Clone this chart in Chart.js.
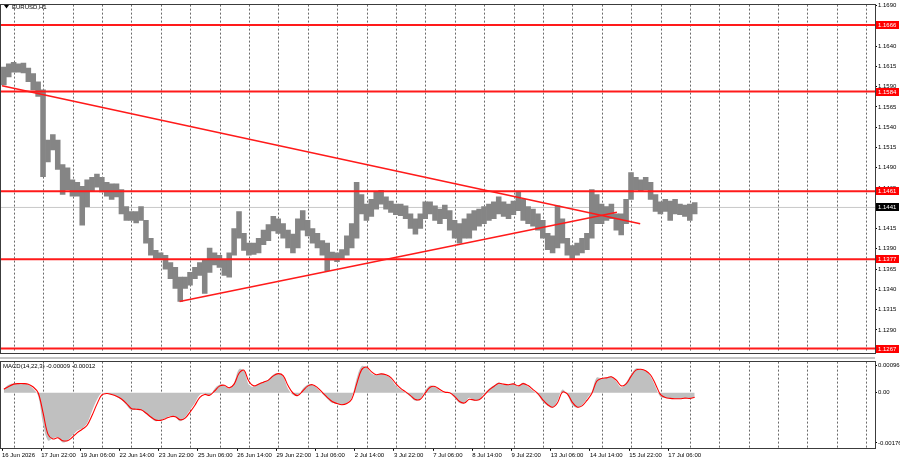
<!DOCTYPE html>
<html>
<head>
<meta charset="utf-8">
<script src="https://cdn.jsdelivr.net/npm/chart.js@4.4.1/dist/chart.umd.min.js"></script>
<style>
html,body{margin:0;padding:0;background:#fff;}
#wrap{position:relative;width:900px;height:460px;overflow:hidden;background:#fff;}
#price{position:absolute;left:0;top:0;}
#macd{position:absolute;left:0;top:357px;}
</style>
</head>
<body>
<div id="wrap">
<canvas id="price" width="900" height="357"></canvas>
<canvas id="macd" width="900" height="103"></canvas>
</div>
<script>
const FONT = "'Liberation Sans', Arial, sans-serif";

// time axis: one unit = one H1 bar, bar 0 = 16 Jun 2026 14:00
const timeLabels = ['16 Jun 2026','17 Jun 22:00','19 Jun 06:00','22 Jun 14:00','23 Jun 22:00','25 Jun 06:00',
  '26 Jun 14:00','29 Jun 22:00','1 Jul 06:00','2 Jul 14:00','3 Jul 22:00','7 Jul 06:00','8 Jul 14:00',
  '9 Jul 22:00','13 Jul 06:00','14 Jul 14:00','15 Jul 22:00','17 Jul 06:00'];
const labelStep = 32;      // hours between time labels
const firstMidnight = 10;  // first day separator
const barHours = 4;        // each drawn bar groups 4 hours
const xMin = -0.82, xMax = 712.7;

// 4-hour price ranges
const highs = [
  1.1614,1.1618,1.1620,1.1618,1.1619,1.1613,1.1606,1.1596,1.1586,1.1524,
  1.1531,1.1524,1.1494,1.1490,1.1475,1.1472,1.1467,1.1475,1.1478,1.1482,
  1.1478,1.1472,1.1470,1.1470,1.1463,1.1442,1.1436,1.1436,1.1442,1.1425,
  1.1403,1.1388,1.1385,1.1382,1.1373,1.1367,1.1355,1.1355,1.1361,1.1367,
  1.1373,1.1377,1.1391,1.1385,1.1382,1.1377,1.1385,1.1415,1.1436,1.1409,
  1.1397,1.1397,1.1403,1.1413,1.1420,1.1430,1.1427,1.1421,1.1413,1.1408,
  1.1427,1.1437,1.1425,1.1415,1.1409,1.1400,1.1397,1.1386,1.1385,1.1389,
  1.1406,1.1421,1.1472,1.1457,1.1445,1.1451,1.1461,1.1462,1.1454,1.1449,
  1.1445,1.1445,1.1443,1.1433,1.1427,1.1433,1.1448,1.1448,1.1443,1.1439,
  1.1444,1.1437,1.1425,1.1421,1.1427,1.1433,1.1437,1.1439,1.1442,1.1445,
  1.1448,1.1454,1.1448,1.1445,1.1449,1.1461,1.1451,1.1442,1.1439,1.1433,
  1.1425,1.1409,1.1406,1.1443,1.1427,1.1403,1.1394,1.1397,1.1403,1.1409,
  1.1463,1.1457,1.1445,1.1442,1.1445,1.1433,1.1433,1.1451,1.1484,1.1478,
  1.1475,1.1478,1.1472,1.1457,1.1448,1.1451,1.1449,1.1451,1.1445,1.1444,
  1.1445,1.1447];
const lows = [
  1.1592,1.1602,1.1608,1.1608,1.1607,1.1596,1.1586,1.1578,1.1479,1.1497,
  1.1512,1.1488,1.1457,1.1463,1.1455,1.1455,1.1419,1.1442,1.1461,1.1466,
  1.1460,1.1455,1.1451,1.1454,1.1433,1.1425,1.1425,1.1422,1.1425,1.1397,
  1.1382,1.1377,1.1377,1.1365,1.1353,1.1341,1.1325,1.1341,1.1345,1.1353,
  1.1357,1.1335,1.1361,1.1370,1.1367,1.1357,1.1355,1.1382,1.1403,1.1388,
  1.1382,1.1383,1.1385,1.1395,1.1400,1.1412,1.1409,1.1403,1.1391,1.1385,
  1.1391,1.1413,1.1406,1.1397,1.1391,1.1382,1.1363,1.1376,1.1374,1.1377,
  1.1382,1.1391,1.1403,1.1433,1.1425,1.1430,1.1439,1.1445,1.1439,1.1435,
  1.1432,1.1431,1.1427,1.1415,1.1408,1.1415,1.1427,1.1433,1.1425,1.1421,
  1.1427,1.1413,1.1403,1.1397,1.1403,1.1403,1.1413,1.1418,1.1421,1.1425,
  1.1427,1.1433,1.1430,1.1427,1.1432,1.1437,1.1425,1.1421,1.1418,1.1413,
  1.1403,1.1389,1.1385,1.1391,1.1397,1.1382,1.1377,1.1382,1.1385,1.1389,
  1.1403,1.1421,1.1421,1.1425,1.1427,1.1413,1.1407,1.1421,1.1451,1.1463,
  1.1461,1.1463,1.1451,1.1436,1.1433,1.1436,1.1425,1.1433,1.1432,1.1430,
  1.1425,1.1433];

// MACD main (histogram) and signal, same 4-hour steps
const macdMain = [
  0.00014,0.00028,0.00032,0.00032,0.00032,0.00028,0.00014,-0.00011,-0.00110,-0.00167,
  -0.00160,-0.00157,-0.00174,-0.00167,-0.00150,-0.00132,-0.00125,-0.00107,-0.00064,-0.00025,
  0.00000,-0.00004,-0.00007,-0.00014,-0.00025,-0.00043,-0.00061,-0.00057,-0.00061,-0.00075,
  -0.00089,-0.00100,-0.00096,-0.00089,-0.00082,-0.00085,-0.00100,-0.00085,-0.00061,-0.00036,
  -0.00007,-0.00004,-0.00011,0.00014,0.00028,0.00025,0.00014,0.00036,0.00082,0.00078,
  0.00028,0.00021,0.00032,0.00039,0.00046,0.00064,0.00068,0.00057,0.00014,-0.00007,
  -0.00011,0.00014,0.00028,0.00028,0.00014,-0.00004,-0.00021,-0.00036,-0.00039,-0.00043,
  -0.00036,-0.00018,0.00050,0.00093,0.00089,0.00068,0.00061,0.00068,0.00061,0.00050,
  0.00025,0.00011,0.00000,-0.00014,-0.00028,-0.00021,0.00007,0.00025,0.00021,0.00007,
  0.00000,0.00000,-0.00018,-0.00036,-0.00036,-0.00018,-0.00028,-0.00025,-0.00004,0.00014,
  0.00025,0.00036,0.00028,0.00028,0.00032,0.00021,0.00036,0.00021,0.00007,-0.00007,
  -0.00032,-0.00046,-0.00053,-0.00028,0.00011,-0.00007,-0.00043,-0.00053,-0.00043,-0.00021,
  0.00004,0.00053,0.00050,0.00053,0.00057,0.00039,0.00018,0.00036,0.00064,0.00085,
  0.00082,0.00075,0.00057,0.00021,-0.00014,-0.00018,-0.00021,-0.00021,-0.00021,-0.00018,
  -0.00021,-0.00014];
const macdSignal = [
  0.00012,0.00022,0.00030,0.00032,0.00032,0.00030,0.00020,0.00000,-0.00070,-0.00145,
  -0.00162,-0.00158,-0.00168,-0.00168,-0.00156,-0.00140,-0.00128,-0.00114,-0.00080,-0.00040,
  -0.00008,-0.00003,-0.00006,-0.00012,-0.00022,-0.00037,-0.00055,-0.00058,-0.00060,-0.00071,
  -0.00085,-0.00096,-0.00097,-0.00091,-0.00084,-0.00084,-0.00095,-0.00089,-0.00068,-0.00044,
  -0.00016,-0.00006,-0.00009,0.00006,0.00023,0.00026,0.00017,0.00030,0.00068,0.00079,
  0.00040,0.00024,0.00030,0.00037,0.00044,0.00059,0.00067,0.00060,0.00025,-0.00001,
  -0.00010,0.00006,0.00023,0.00028,0.00018,0.00001,-0.00016,-0.00031,-0.00038,-0.00042,
  -0.00038,-0.00023,0.00030,0.00080,0.00090,0.00074,0.00063,0.00066,0.00063,0.00053,
  0.00032,0.00015,0.00003,-0.00010,-0.00024,-0.00023,-0.00001,0.00019,0.00022,0.00011,
  0.00002,0.00000,-0.00013,-0.00031,-0.00036,-0.00023,-0.00026,-0.00025,-0.00009,0.00009,
  0.00022,0.00033,0.00030,0.00028,0.00031,0.00024,0.00032,0.00025,0.00011,-0.00003,
  -0.00025,-0.00042,-0.00051,-0.00035,0.00002,-0.00004,-0.00033,-0.00050,-0.00046,-0.00027,
  -0.00003,0.00040,0.00050,0.00052,0.00056,0.00044,0.00024,0.00031,0.00057,0.00079,
  0.00082,0.00077,0.00062,0.00030,-0.00006,-0.00017,-0.00020,-0.00021,-0.00021,-0.00019,
  -0.00020,-0.00016];

const levels = [1.1666, 1.1584, 1.1461, 1.1377, 1.1267];
const bidPrice = 1.1441;
// trend lines: [hour, price]
const trendDown = [[0, 1.1591], [521, 1.1421]];
const trendUp = [[145, 1.1325], [502, 1.1435]];

const priceTicks = [1.1690,1.1665,1.1640,1.1615,1.1590,1.1565,1.1540,1.1515,1.1490,
  1.1465,1.1440,1.1415,1.1390,1.1365,1.1340,1.1315,1.1290,1.1265];
const macdTicks = [0.00096, 0, -0.00176];
const macdCaption = 'MACD(14,22,3) -0.00009 -0.00012';
const symbolCaption = 'EURUSD,H1';

const barHour = i => i * barHours + barHours / 2 - 0.5;
const dayHours = [];
for (let h = firstMidnight; h < xMax; h += 24) dayHours.push(h);
const labelHours = timeLabels.map((t, i) => i * labelStep);

const RED = '#ff1a1a';

//frame round the plot area
const frame = {
    id: 'frame',
    afterDraw(c){
        const a = c.chartArea, ctx = c.ctx;
        ctx.save();
        ctx.strokeStyle = '#3c3c3c';
        ctx.lineWidth = 1;
        ctx.strokeRect(Math.round(a.left) - 0.5, Math.round(a.top) - 0.5, Math.round(a.right - a.left) + 1, Math.round(a.bottom - a.top) + 1);
        ctx.restore();
    }
};

//price tags on the right scale
const priceTags = {
    id: 'priceTags',
    afterDraw(c){
        const ctx = c.ctx, y = c.scales.y, right = c.chartArea.right;
        const tag = (v, bg) => {
            const py = Math.round(y.getPixelForValue(v));
            ctx.fillStyle = bg;
            ctx.fillRect(right + 1, py - 4, 23, 8);
            ctx.fillStyle = '#fff';
            ctx.fillText(v.toFixed(4), right + 3, py + 0.5);
        };
        ctx.save();
        ctx.font = '6px ' + FONT;
        ctx.textBaseline = 'middle';
        levels.forEach(v => tag(v, '#ff0000'));
        tag(bidPrice, '#000');
        // symbol caption
        ctx.fillStyle = '#000';
        ctx.beginPath();
        ctx.moveTo(4, 5); ctx.lineTo(9, 5); ctx.lineTo(6.5, 8.5); ctx.closePath();
        ctx.fill();
        ctx.fillText(symbolCaption, 12, 7);
        ctx.restore();
    }
};

const lineSet = (pts, color, width, order) => ({
    type: 'line',
    data: pts.map(p => ({x: p[0], y: p[1]})),
    borderColor: color,
    borderWidth: width,
    pointRadius: 0,
    order: order
});

new Chart(document.getElementById('price'), {
    data: {
        datasets: [
            {
                type: 'bar',
                data: highs.map((h, i) => ({x: barHour(i), y: [lows[i], h]})),
                backgroundColor: '#858585',
                borderWidth: 0,
                barThickness: 4.9,
                order: 3
            },
            lineSet([[xMin, bidPrice], [xMax, bidPrice]], '#c8c8c8', 1, 4),
            ...levels.map(v => lineSet([[xMin, v], [xMax, v]], RED, 2, 1)),
            lineSet(trendDown, RED, 1.6, 0),
            lineSet(trendUp, RED, 1.6, 0)
        ]
    },
    options: {
        responsive: false,
        animation: false,
        layout: {padding: {top: 1, left: 1, right: 0, bottom: 0}},
        plugins: {legend: {display: false}, tooltip: {enabled: false}},
        scales: {
            x: {
                type: 'linear', min: xMin, max: xMax, offset: false,
                afterBuildTicks: s => { s.ticks = dayHours.map(v => ({value: v})); },
                ticks: {display: false},
                grid: {color: '#6a6a6a', lineWidth: 1, drawTicks: false, offset: false},
                border: {display: false, dash: [2, 2]}
            },
            y: {
                position: 'right', min: 1.12622, max: 1.16912,
                afterBuildTicks: s => { s.ticks = priceTicks.map(v => ({value: v})); },
                afterFit: s => { s.width = 25; },
                ticks: {callback: v => v.toFixed(4), font: {family: FONT, size: 6}, color: '#000', padding: 1, autoSkip: false},
                grid: {drawOnChartArea: false, drawTicks: true, tickLength: 2, color: '#000'},
                border: {display: true, color: '#3c3c3c'}
            }
        }
    },
    plugins: [frame, priceTags]
});

//MACD panel
const macdPanel = {
    id: 'macdPanel',
    beforeDraw(c){
        const ctx = c.ctx;
        ctx.save();
        ctx.fillStyle = '#c4c4c4';
        ctx.fillRect(0, 0, c.chartArea.right, 2);
        ctx.restore();
    },
    afterDraw(c){
        const ctx = c.ctx;
        ctx.save();
        ctx.font = '6px ' + FONT;
        ctx.fillStyle = '#000';
        ctx.textBaseline = 'middle';
        ctx.fillText(macdCaption, 3, c.chartArea.top + 5);
        ctx.restore();
    }
};

new Chart(document.getElementById('macd'), {
    data: {
        datasets: [
            {
                type: 'line',
                data: macdMain.map((v, i) => ({x: barHour(i), y: v})),
                fill: 'origin',
                backgroundColor: '#c0c0c0',
                borderColor: 'rgba(0,0,0,0)',
                borderWidth: 0,
                pointRadius: 0,
                tension: 0.35,
                order: 2
            },
            {
                type: 'line',
                data: macdSignal.map((v, i) => ({x: barHour(i), y: v})),
                borderColor: '#ff0000',
                borderWidth: 1.1,
                pointRadius: 0,
                tension: 0.35,
                order: 1
            }
        ]
    },
    options: {
        responsive: false,
        animation: false,
        layout: {padding: {top: 3, left: 1, right: 0, bottom: 0}},
        plugins: {legend: {display: false}, tooltip: {enabled: false}},
        scales: {
            x: {
                type: 'linear', min: xMin, max: xMax, position: 'bottom',
                afterBuildTicks: s => { s.ticks = dayHours.map(v => ({value: v})); },
                ticks: {display: false},
                grid: {color: '#6a6a6a', lineWidth: 1, drawTicks: false},
                border: {display: false, dash: [2, 2]}
            },
            xl: {
                type: 'linear', min: xMin, max: xMax, position: 'bottom',
                afterBuildTicks: s => { s.ticks = labelHours.map(v => ({value: v})); },
                ticks: {
                    callback: (v, i) => timeLabels[i],
                    align: 'start', autoSkip: false, maxRotation: 0,
                    font: {family: FONT, size: 6}, color: '#000', padding: 1
                },
                grid: {drawOnChartArea: false, drawTicks: true, tickLength: 3, color: '#000'},
                border: {display: false}
            },
            y: {
                position: 'right', min: -0.00193, max: 0.00109,
                afterBuildTicks: s => { s.ticks = macdTicks.map(v => ({value: v})); },
                afterFit: s => { s.width = 25; },
                ticks: {callback: v => v === 0 ? '0.00' : v.toFixed(5), font: {family: FONT, size: 6}, color: '#000', padding: 1, autoSkip: false},
                grid: {drawOnChartArea: false, drawTicks: true, tickLength: 2, color: '#000'},
                border: {display: true, color: '#3c3c3c'}
            }
        }
    },
    plugins: [frame, macdPanel]
});
</script>
</body>
</html>
